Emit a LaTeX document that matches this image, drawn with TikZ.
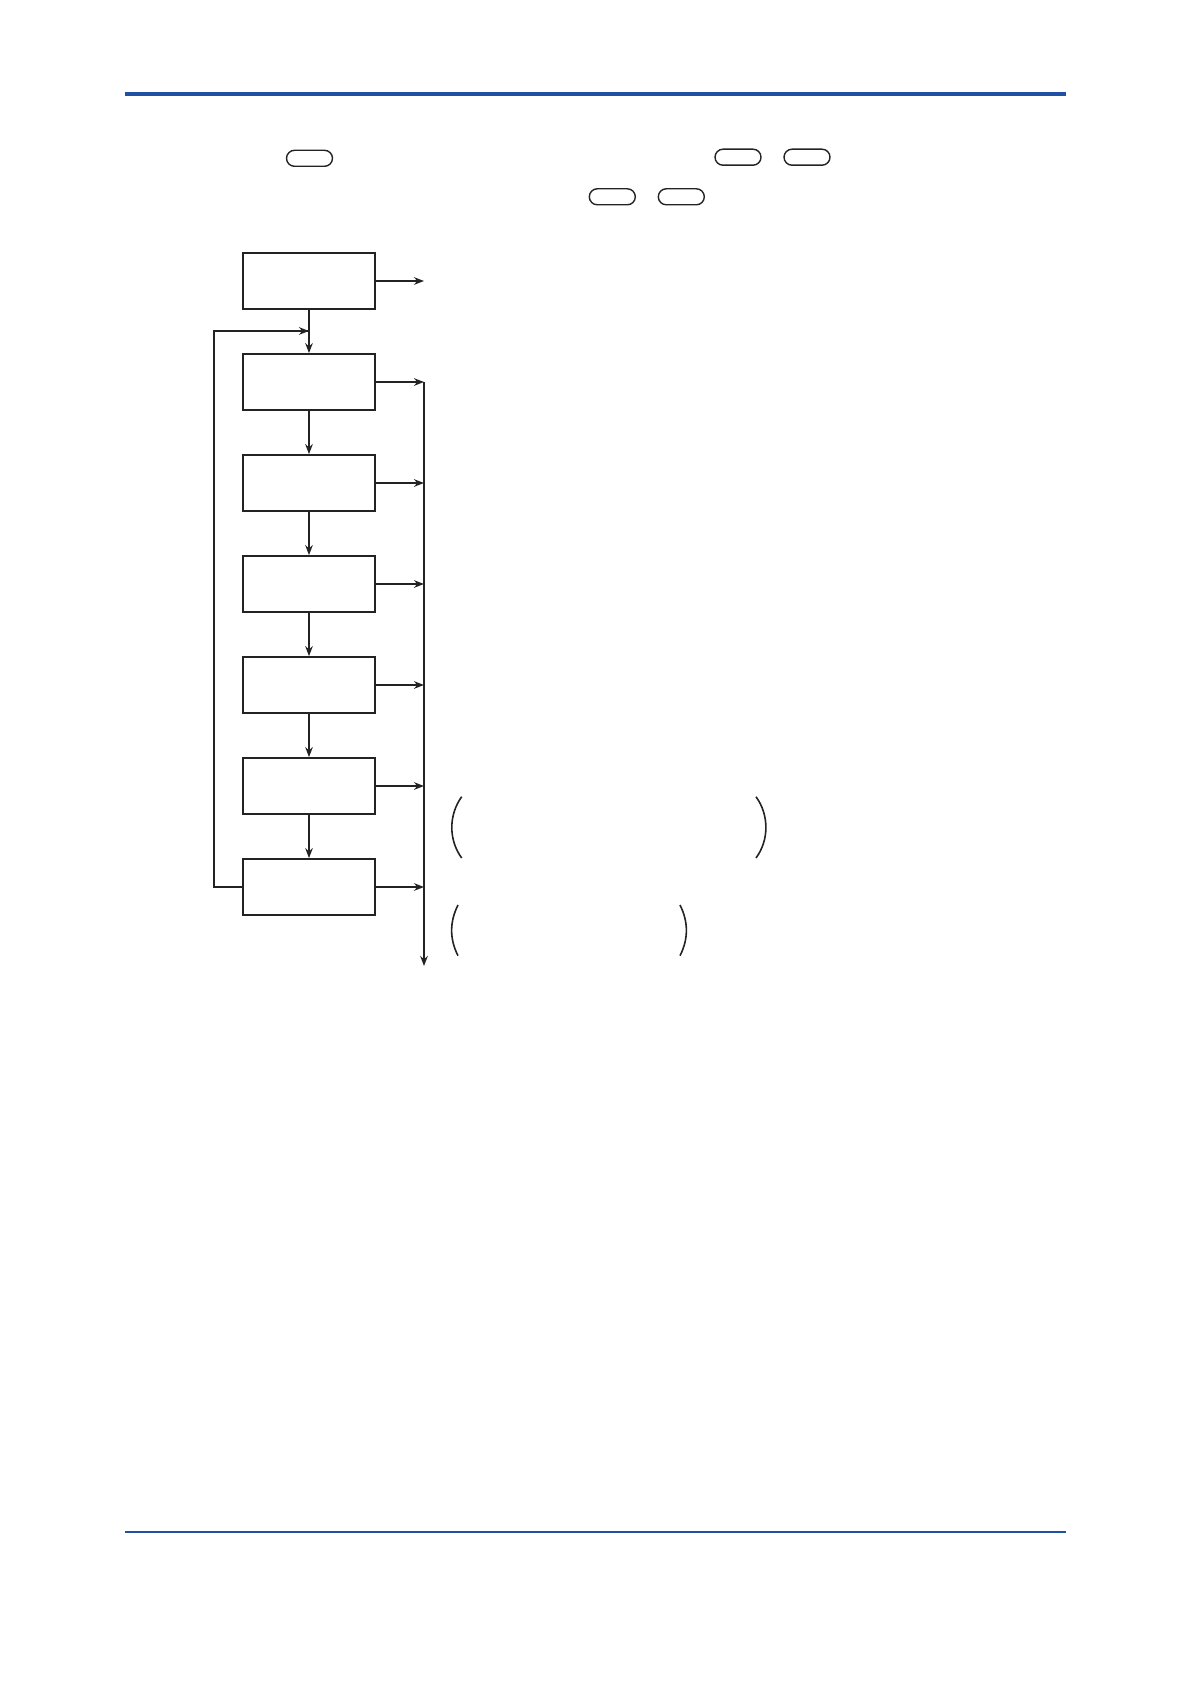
\documentclass[tikz,border=0pt]{standalone}
\usepackage{tikz}
\usetikzlibrary{arrows.meta,positioning}
\definecolor{pgblue}{RGB}{32,80,166}
\definecolor{pgline}{RGB}{35,35,35}
\tikzstyle{stepbox} = [draw=pgline, line width=0.9pt, minimum width=66pt, minimum height=28pt, inner sep=0pt]
\tikzstyle{keycap} = [draw=pgline, line width=0.7pt, minimum width=23pt, minimum height=8pt, rounded corners=4pt, inner sep=0pt]
\tikzstyle{arrow} = [line width=0.85pt, color=pgline, -{Stealth[length=5pt,width=3.8pt]}]

\begin{document}
\begin{tikzpicture}[x=0.5pt, y=-0.5pt]
\useasboundingbox (0,0) rectangle (1191,1684);

% Page rules
\draw[pgblue, line width=1.7pt] (125,94) -- (1066,94);
\draw[pgblue, line width=1.1pt] (125,1532) -- (1066,1532);

% Keys
\node[keycap] (keyA) at (309.5,158.3) {};
\node[keycap] (keyB) at (738,157.2) {};
\node[keycap] (keyC) at (807,157.2) {};
\node[keycap] (keyD) at (612.3,196.8) {};
\node[keycap] (keyE) at (681.3,196.8) {};

% Steps
\node[stepbox] (s1) at (309,281) {};
\node[stepbox] (s2) at (309,382) {};
\node[stepbox] (s3) at (309,483) {};
\node[stepbox] (s4) at (309,584) {};
\node[stepbox] (s5) at (309,685) {};
\node[stepbox] (s6) at (309,786) {};
\node[stepbox] (s7) at (309,887) {};

% Flow between steps
\draw[arrow] (s1) -- (s2);
\draw[arrow] (s2) -- (s3);
\draw[arrow] (s3) -- (s4);
\draw[arrow] (s4) -- (s5);
\draw[arrow] (s5) -- (s6);
\draw[arrow] (s6) -- (s7);

% Loop back
\coordinate (loopx) at (214,887);
\coordinate (loopin) at (309,331);
\draw[line width=0.85pt, pgline] (s7.west) -- (s7.west -| loopx) |- (loopin);
\draw[arrow] (loopx |- loopin) -- (loopin);

% Outputs
\coordinate (out1) at (424,281);
\coordinate (bustop) at (424,382);
\coordinate (busend) at (424,966);
\draw[arrow] (s1.east) -- (out1);
\draw[arrow, line width=0.95pt] (bustop) -- (busend);
\draw[arrow] (s2.east) -- (s2.east -| bustop);
\draw[arrow] (s3.east) -- (s3.east -| bustop);
\draw[arrow] (s4.east) -- (s4.east -| bustop);
\draw[arrow] (s5.east) -- (s5.east -| bustop);
\draw[arrow] (s6.east) -- (s6.east -| bustop);
\draw[arrow] (s7.east) -- (s7.east -| bustop);

% Brackets
\draw[pgline, line width=0.8pt] (461.7,796.7) .. controls (448.5,815) and (448.5,840) .. (461.7,858);
\draw[pgline, line width=0.8pt] (756,796.7) .. controls (769.2,815) and (769.2,840) .. (756,858);
\draw[pgline, line width=0.8pt] (458,905) .. controls (449.5,922) and (449.5,939) .. (458,955.7);
\draw[pgline, line width=0.8pt] (680,905) .. controls (688.5,922) and (688.5,939) .. (680,955.7);
\end{tikzpicture}
\end{document}
